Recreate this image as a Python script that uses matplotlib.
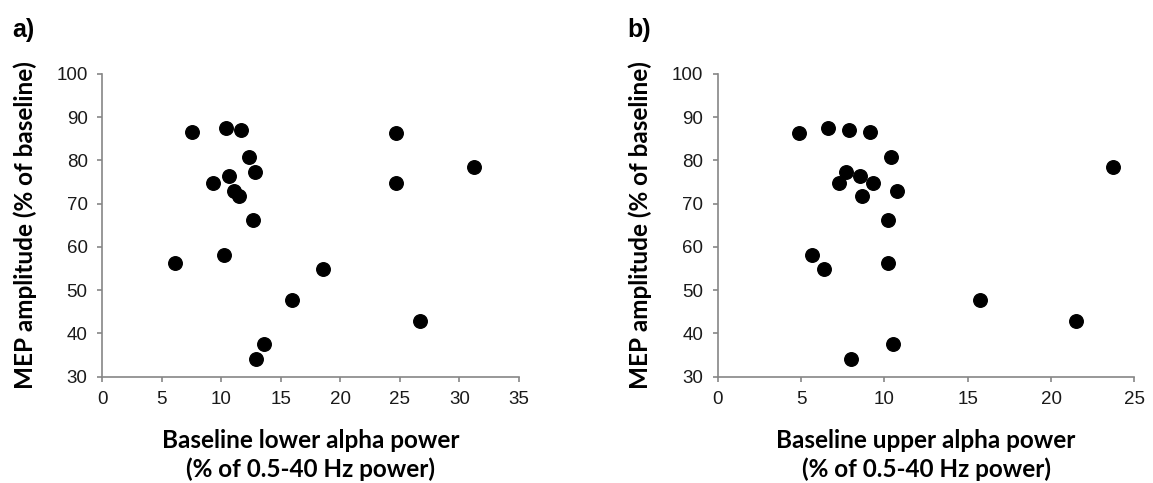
import matplotlib
matplotlib.use("Agg")
import matplotlib.pyplot as plt

# MEP amplitude per subject, with lower and upper alpha power at baseline
mep_amplitude = [86.7, 87.4, 87.1, 86.35, 80.9, 78.5, 77.3, 76.5, 74.9, 74.8,
                 73.0, 71.8, 66.2, 58.1, 56.2, 54.8, 47.8, 42.9, 37.5, 34.1]
lower_alpha = [7.5, 10.36, 11.65, 24.67, 12.29, 31.22, 12.8, 10.61, 9.27, 24.67,
               11.03, 11.51, 12.66, 10.22, 6.13, 18.57, 15.96, 26.71, 13.61, 12.91]
upper_alpha = [9.16, 6.6, 7.88, 4.86, 10.38, 23.7, 7.68, 8.52, 7.28, 9.34,
               10.74, 8.68, 10.24, 5.68, 10.2, 6.36, 15.76, 21.48, 10.54, 8.02]

panels = [
    ("a)", lower_alpha, "Baseline lower alpha power", range(0, 36, 5)),
    ("b)", upper_alpha, "Baseline upper alpha power", range(0, 26, 5)),
]
y_ticks = range(30, 101, 10)

plt.rcParams["font.family"] = ["Liberation Sans", "DejaVu Sans"]
label_font = "Lato"
axis_grey = "#868686"

fig = plt.figure(figsize=(11.53, 4.83), dpi=100)
lefts = [0.0887, 0.6225]

for left, (tag, xs, xlabel, x_ticks) in zip(lefts, panels):
    ax = fig.add_axes([left, 0.2201, 0.3614, 0.6267])
    ax.scatter(xs, mep_amplitude, s=95, color="black", zorder=3, clip_on=False)
    ax.set_xlim(min(x_ticks), max(x_ticks))
    ax.set_ylim(30, 100)
    ax.set_xticks(list(x_ticks))
    ax.set_yticks(list(y_ticks))
    for side in ("top", "right"):
        ax.spines[side].set_visible(False)
    for side in ("left", "bottom"):
        ax.spines[side].set_color(axis_grey)
        ax.spines[side].set_linewidth(1.2)
    ax.tick_params(direction="out", length=3.5, width=1.2, color=axis_grey,
                   labelsize=13.5, labelcolor="#1a1a1a", pad=7)
    ax.set_xlabel(xlabel + "\n(% of 0.5-40 Hz power)", fontsize=17.5,
                  fontweight="bold", family=label_font, linespacing=1.25,
                  labelpad=15)
    ax.set_ylabel("MEP amplitude (% of baseline)", fontsize=17.5,
                  fontweight="bold", family=label_font, labelpad=14)
    fig.text(left - 0.078, 0.937, tag, fontsize=18, fontweight="bold",
             va="center")

fig.savefig("out.png", dpi=100, facecolor="white")
